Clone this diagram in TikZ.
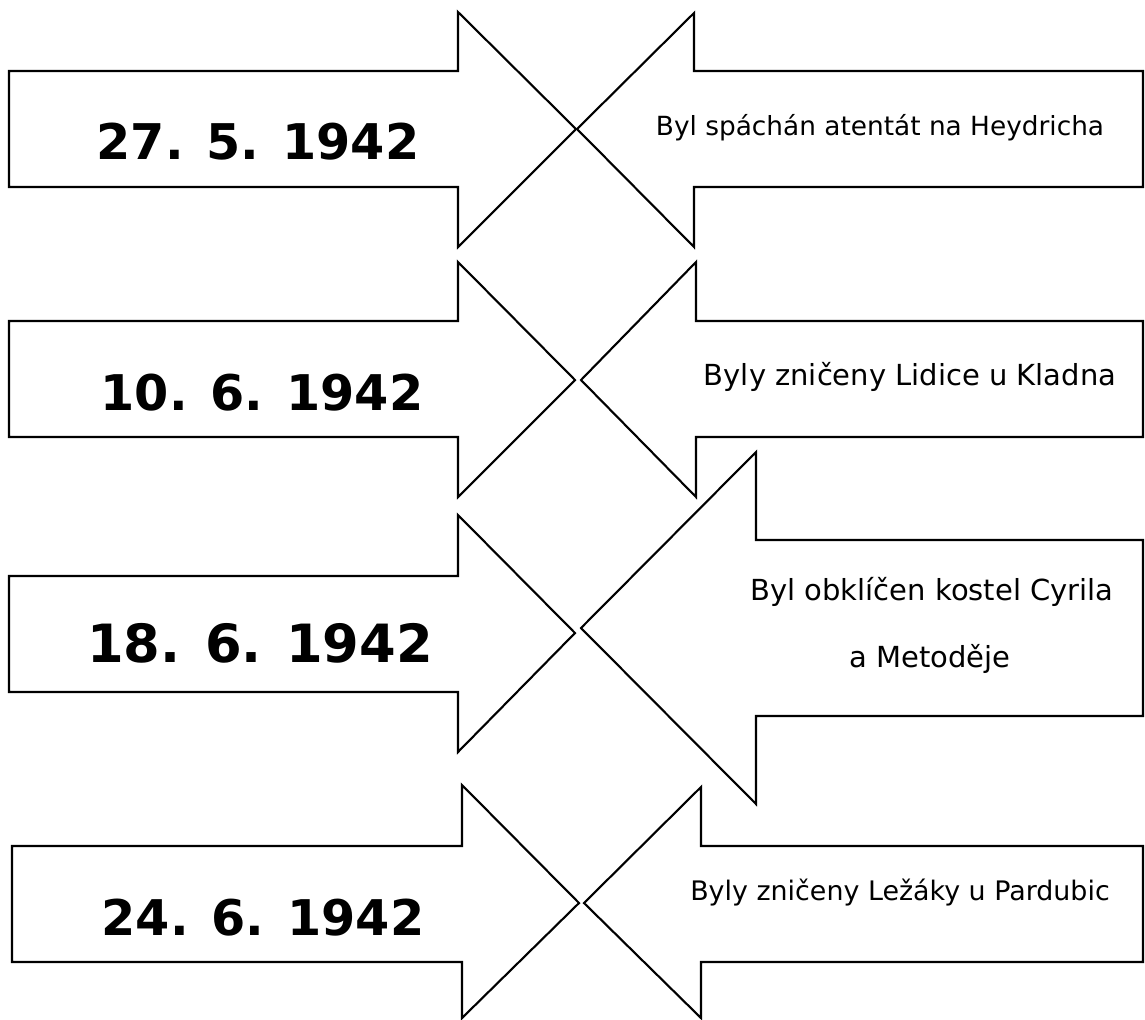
\documentclass[tikz,border=0pt]{standalone}
\usepackage{fontspec}
\setmainfont{DejaVu Sans}
\usepackage{tikz}

\begin{document}
\begin{tikzpicture}[x=0.02cm,y=-0.02cm,
	arrowshape/.style={draw=black,line width=1.2pt,line join=miter},
	datum/.style={anchor=base,inner sep=0pt,font=\bfseries\fontsize{28}{32}\selectfont},
	udalost/.style={anchor=base,inner sep=0pt,font=\fontsize{15}{18}\selectfont}]
	\useasboundingbox (0,0) rectangle (1145,1019);
	%\draw[help lines,step=50] (0,0) grid (1145,1019);

	% 27. 5. 1942
	\draw[arrowshape] (9,71) -- (458,71) -- (458,12) -- (576,129) -- (458,247) -- (458,187) -- (9,187) -- cycle;
	\draw[arrowshape] (1143,71) -- (694,71) -- (694,13) -- (577,129) -- (694,247) -- (694,187) -- (1143,187) -- cycle;
	\node[datum] (d1) at (258,159) {27. 5. 1942};
	\node[udalost] (e1) at (880,135) {Byl spáchán atentát na Heydricha};

	% 10. 6. 1942
	\draw[arrowshape] (9,321) -- (458,321) -- (458,262) -- (575,380) -- (458,497) -- (458,437) -- (9,437) -- cycle;
	\draw[arrowshape] (1143,321) -- (696,321) -- (696,262) -- (581,380) -- (696,497) -- (696,437) -- (1143,437) -- cycle;
	\node[datum] (d2) at (262,410) {10. 6. 1942};
	\node[udalost,font=\fontsize{16.5}{20}\selectfont] (e2) at (910,385) {Byly zničeny Lidice u Kladna};

	% 18. 6. 1942
	\draw[arrowshape] (9,576) -- (458,576) -- (458,515) -- (575,633) -- (458,752) -- (458,692) -- (9,692) -- cycle;
	\draw[arrowshape] (1143,540) -- (756,540) -- (756,452) -- (581,628) -- (756,804) -- (756,716) -- (1143,716) -- cycle;
	\node[datum,font=\bfseries\fontsize{30}{34}\selectfont] (d3) at (260,662) {18. 6. 1942};
	\node[udalost,font=\fontsize{16.5}{20}\selectfont] (e3a) at (932,600) {Byl obklíčen kostel Cyrila};
	\node[udalost,font=\fontsize{16.5}{20}\selectfont] (e3b) at (930,667) {a Metoděje};

	% 24. 6. 1942
	\draw[arrowshape] (12,846) -- (462,846) -- (462,785) -- (579,903) -- (462,1018) -- (462,962) -- (12,962) -- cycle;
	\draw[arrowshape] (1143,846) -- (701,846) -- (701,787) -- (584,903) -- (701,1018) -- (701,962) -- (1143,962) -- cycle;
	\node[datum] (d4) at (263,935) {24. 6. 1942};
	\node[udalost,font=\fontsize{15.3}{18}\selectfont] (e4) at (900,900) {Byly zničeny Ležáky u Pardubic};

\end{tikzpicture}
\end{document}
